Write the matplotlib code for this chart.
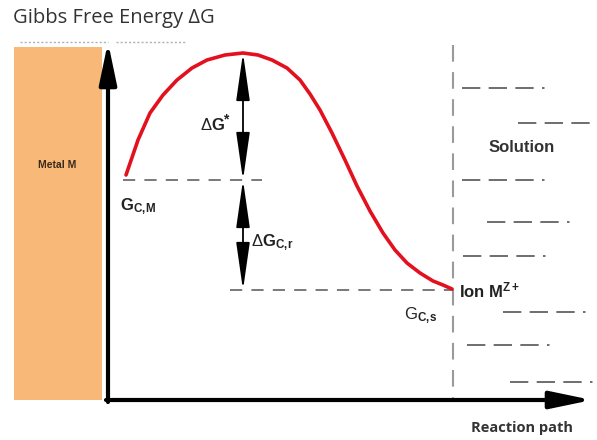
import matplotlib.pyplot as plt
from matplotlib.patches import FancyArrowPatch, Rectangle

plt.rcParams.update({
    "mathtext.fontset": "custom",
    "mathtext.rm": "Liberation Sans",
    "mathtext.bf": "Liberation Sans:bold",
    "mathtext.it": "Liberation Sans:italic",
})

# energy profile (pixel coordinates, y down)
curve_x = [126, 138, 150, 163, 177, 192, 207, 225, 243, 258, 272, 287, 300, 310, 320, 332, 345, 357, 370, 383, 395, 407, 420, 433, 443, 452]
curve_y = [175, 140, 113, 95, 80, 68, 60, 55, 53, 55, 60, 68, 80, 94, 110, 133, 160, 186, 211, 233, 250, 263, 273, 281, 285, 289]

g_cm = 180          # level of metal atoms
g_cs = 290          # level of ions in solution
peak = 53
barrier_x = 243
boundary_x = 453

# solution hatching: (y, x_start, x_end)
sol_y = [88, 123, 180, 222, 256, 312, 345, 382]
sol_x0 = [462, 518, 462, 487, 463, 503, 467, 510]
sol_x1 = [552, 597, 557, 580, 560, 597, 560, 597]

W, H = 597, 440
fig = plt.figure(figsize=(W / 100, H / 100), dpi=100)
ax = fig.add_axes([0, 0, 1, 1])
ax.set_xlim(0, W)
ax.set_ylim(H, 0)
ax.axis("off")

sans = "Liberation Sans"
grey = "#555555"

ax.text(13, 18, "Gibbs Free Energy \u0394G", fontsize=14.5, family="Open Sans", color="#333333", va="center")
# faint cropped text remnant under the title
ax.plot([20, 108], [42, 42], color="#b0b0b0", linewidth=1.0, dashes=(1.5, 1.5))
ax.plot([116, 186], [42, 42], color="#b0b0b0", linewidth=1.0, dashes=(1.5, 1.5))

# metal block
ax.add_patch(Rectangle((14, 47), 88, 353, facecolor="#f8b878", edgecolor="none"))
ax.text(57, 165, "Metal M", fontsize=7.5, family=sans, fontweight="bold", color="#3a2a1a", ha="center", va="center")

# axes arrows
ax.add_patch(FancyArrowPatch((108, 402), (108, 42), arrowstyle="-|>,head_length=3.6,head_width=0.75",
                             mutation_scale=7, linewidth=3, color="black", shrinkA=0, shrinkB=0))
ax.add_patch(FancyArrowPatch((106, 400), (592, 400), arrowstyle="-|>,head_length=3.6,head_width=0.75",
                             mutation_scale=7, linewidth=3, color="black", shrinkA=0, shrinkB=0))

# boundary and levels
ax.plot([boundary_x, boundary_x], [45, 398], color="#9a9a9a", linewidth=1.5, dashes=(8, 5))
ax.plot([123, 262], [g_cm, g_cm], color=grey, linewidth=1.1, dashes=(8, 6))
ax.plot([230, boundary_x], [g_cs, g_cs], color=grey, linewidth=1.1, dashes=(8, 6))

for y, x0, x1 in zip(sol_y, sol_x0, sol_x1):
    ax.plot([x0, x1], [y, y], color=grey, linewidth=1.2, dashes=(11, 5, 11, 5, 11, 5, 1.5, 20))

ax.plot(curve_x, curve_y, color="#e3101e", linewidth=2.6, solid_capstyle="round")

# double arrows
for y0, y1 in [(peak, g_cm), (g_cm, g_cs)]:
    ax.add_patch(FancyArrowPatch((barrier_x, y0), (barrier_x, y1),
                                 arrowstyle="<|-|>,head_length=4.2,head_width=0.6",
                                 mutation_scale=7, linewidth=1.3, color="black", shrinkA=0, shrinkB=0))

ax.text(212, 125, r"$\Delta\mathbf{G}$", fontsize=12, color="#222222", ha="center", va="center")
ax.text(226, 119, "*", fontsize=10, family=sans, fontweight="bold", color="#222222", ha="center", va="center")
ax.text(272, 243, r"$\Delta\mathbf{G_{C,\!r}}$", fontsize=12, color="#222222", ha="center", va="center")
ax.text(138, 207, r"$\mathbf{G_{C,\!M}}$", fontsize=12, color="#222222", ha="center", va="center")
ax.text(421, 316, r"$\mathrm{G}_{\mathbf{C,\!s}}$", fontsize=12, color="#222222", ha="center", va="center")
ax.text(459, 291, r"$\mathbf{Ion\ M^{Z+}}$", fontsize=12, color="#222222", ha="left", va="center")
ax.text(522, 147, "Solution", fontsize=12, family=sans, fontweight="bold", color="#333333", ha="center", va="center")

ax.text(522, 428, "Reaction path", fontsize=10.5, family="Open Sans", fontweight="bold", color="#333333",
        ha="center", va="center")

fig.savefig("out.png", dpi=100)
